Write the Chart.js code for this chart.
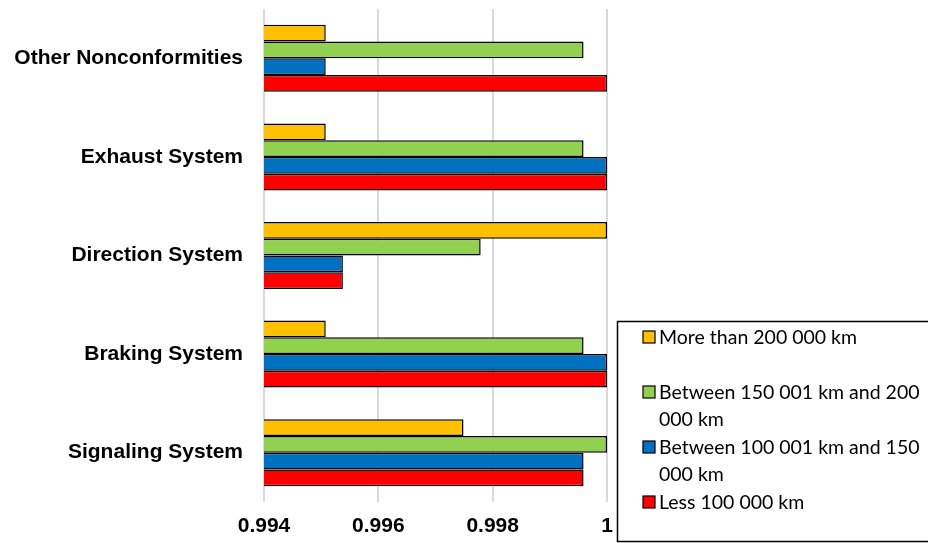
<!DOCTYPE html>
<html>
<head>
<meta charset="utf-8">
<script src="https://cdn.jsdelivr.net/npm/chart.js@4/dist/chart.umd.min.js"></script>
<style>
  html, body { margin: 0; padding: 0; background: #ffffff; }
  #wrap { width: 928px; height: 543px; }
</style>
</head>
<body>
<div id="wrap"><canvas id="c" width="928" height="543"></canvas></div>
<script>
// Vehicle systems, top to bottom
const categories = ['Other Nonconformities', 'Exhaust System', 'Direction System', 'Braking System', 'Signaling System'];

// Mileage groups
const seriesNames = [
  'More than 200 000 km',
  'Between 150 001 km and 200 000 km',
  'Between 100 001 km and 150 000 km',
  'Less 100 000 km'
];

// Values per system, one list per mileage group
const over200k       = [0.99508, 0.99508, 1.00000, 0.99508, 0.99749];
const from150kTo200k = [0.99959, 0.99959, 0.99779, 0.99959, 1.00000];
const from100kTo150k = [0.99508, 1.00000, 0.99538, 1.00000, 0.99959];
const under100k      = [1.00000, 1.00000, 0.99538, 1.00000, 0.99959];

const seriesColors = ['#FFC000', '#92D050', '#0070C0', '#FF0000'];
const xTickLabels = ['0.994', '0.996', '0.998', '1'];

const seriesValues = [over200k, from150kTo200k, from100kTo150k, under100k];

// Boxed legend on the lower right, each entry gets a two-line slot
const boxLegend = {
  id: 'boxLegend',
  afterDraw(chart) {
    const ctx = chart.ctx;
    ctx.save();
    ctx.strokeStyle = '#000000';
    ctx.lineWidth = 1.5;
    ctx.strokeRect(617.5, 321.5, 330, 220);
    ctx.font = '19.5px Lato';
    ctx.textBaseline = 'middle';
    ctx.textAlign = 'left';
    const textX = 659, maxW = 266, slot = 55, lineH = 26.5;
    chart.data.datasets.forEach((ds, i) => {
      const y0 = 337 + i * slot;
      // wrap label into lines
      const words = ds.label.split(' ');
      const lines = [];
      let cur = '';
      words.forEach(w => {
        const test = cur ? cur + ' ' + w : w;
        if (ctx.measureText(test).width > maxW && cur) { lines.push(cur); cur = w; }
        else cur = test;
      });
      if (cur) lines.push(cur);
      ctx.fillStyle = ds.backgroundColor;
      ctx.fillRect(643, y0 - 6, 12, 12);
      ctx.lineWidth = 1.2;
      ctx.strokeRect(643, y0 - 6, 12, 12);
      ctx.fillStyle = '#000000';
      lines.forEach((ln, k) => ctx.fillText(ln, textX, y0 + k * lineH + 1));
    });
    ctx.restore();
  }
};

new Chart(document.getElementById('c'), {
  type: 'bar',
  data: {
    labels: categories,
    datasets: seriesNames.map((name, i) => ({
      label: name,
      data: seriesValues[i],
      backgroundColor: seriesColors[i],
      borderColor: '#000000',
      borderWidth: 1.5,
      borderSkipped: false,
      categoryPercentage: 0.68,
      barPercentage: 1.0
    }))
  },
  options: {
    indexAxis: 'y',
    responsive: false,
    animation: false,
    layout: { padding: { top: 9, right: 321, bottom: 0, left: 0 } },
    plugins: {
      legend: { display: false },
      tooltip: { enabled: false }
    },
    scales: {
      x: {
        min: 0.994,
        max: 1,
        ticks: {
          stepSize: 0.002,
          padding: 12,
          color: '#000000',
          font: { family: 'Liberation Sans', size: 21, weight: 'bold' },
          callback: (v, i) => xTickLabels[i]
        },
        grid: { color: '#d9d9d9', lineWidth: 2, drawTicks: false },
        border: { display: false },
        afterFit(scale) { scale.height = 41; }
      },
      y: {
        ticks: {
          padding: 21,
          color: '#000000',
          font: { family: 'Liberation Sans', size: 21, weight: 'bold' }
        },
        grid: { display: false, drawTicks: false },
        border: { display: false },
        afterFit(scale) {
          scale.width = 264;
          scale.paddingTop = 0;
          scale.paddingBottom = 0;
        }
      }
    }
  },
  plugins: [boxLegend]
});
</script>
</body>
</html>
